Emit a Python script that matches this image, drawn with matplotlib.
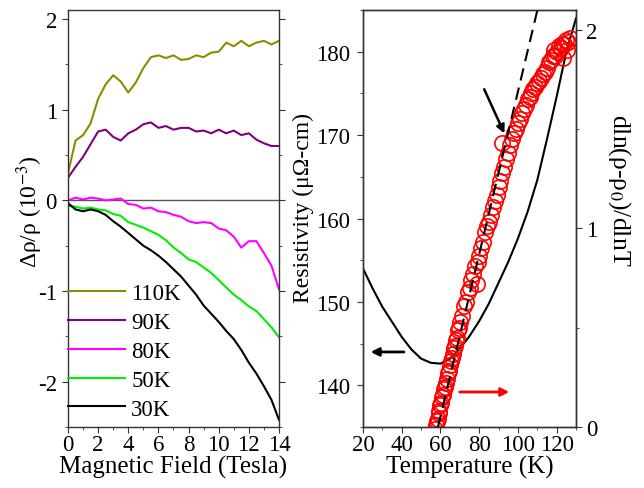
import matplotlib
matplotlib.use("Agg")
import matplotlib.pyplot as plt
from matplotlib.ticker import MultipleLocator

plt.rcParams['font.family'] = ['Liberation Serif', 'DejaVu Serif']
plt.rcParams['mathtext.fontset'] = 'stix'
plt.rcParams['axes.unicode_minus'] = False

# ---- left panel: magnetoresistance vs field ----
field = [0, 0.5, 1.0, 1.5, 2.0, 2.5, 3.0, 3.5, 4.0, 4.5, 5.0, 5.5, 6.0, 6.5, 7.0,
         7.5, 8.0, 8.5, 9.0, 9.5, 10.0, 10.5, 11.0, 11.5, 12.0, 12.5, 13.0, 13.5, 14.0]
mr_110 = [0.30, 0.66, 0.72, 0.85, 1.12, 1.28, 1.38, 1.31, 1.19, 1.30, 1.46, 1.58, 1.60, 1.57, 1.60,
          1.55, 1.56, 1.60, 1.58, 1.63, 1.64, 1.74, 1.70, 1.76, 1.70, 1.74, 1.76, 1.72, 1.76]
mr_90 = [0.25, 0.37, 0.48, 0.62, 0.76, 0.78, 0.70, 0.66, 0.74, 0.78, 0.84, 0.86, 0.80, 0.82, 0.78,
         0.80, 0.80, 0.76, 0.77, 0.74, 0.78, 0.74, 0.77, 0.72, 0.74, 0.67, 0.63, 0.60, 0.60]
mr_80 = [0.00, 0.03, 0.01, 0.03, 0.02, 0.00, 0.01, 0.02, -0.04, -0.05, -0.09, -0.08, -0.12, -0.13, -0.16,
         -0.18, -0.23, -0.25, -0.24, -0.25, -0.31, -0.33, -0.40, -0.52, -0.45, -0.45, -0.58, -0.72, -0.98]
mr_50 = [-0.06, -0.07, -0.09, -0.08, -0.10, -0.11, -0.15, -0.17, -0.24, -0.27, -0.30, -0.34, -0.38, -0.44, -0.52,
         -0.58, -0.65, -0.68, -0.74, -0.80, -0.88, -0.96, -1.04, -1.10, -1.17, -1.22, -1.31, -1.40, -1.51]
mr_30 = [-0.03, -0.10, -0.12, -0.10, -0.12, -0.16, -0.23, -0.29, -0.36, -0.43, -0.50, -0.55, -0.61, -0.68, -0.76,
         -0.84, -0.94, -1.04, -1.16, -1.25, -1.34, -1.44, -1.53, -1.65, -1.79, -1.91, -2.05, -2.20, -2.42]
mr_labels = ['110K', '90K', '80K', '50K', '30K']
mr_colors = ['#8c8c00', '#800080', '#ff00ff', '#00ee00', '#000000']

# ---- right panel: resistivity and log-derivative vs temperature ----
temp_rho = [20, 25, 30, 35, 40, 45, 50, 55, 60, 65, 70, 75, 80, 85, 90, 95, 100,
            105, 110, 115, 120, 125, 130]
rho = [154.0, 151.6, 149.4, 147.6, 145.8, 144.3, 143.2, 142.7, 142.6, 143.2, 144.4, 145.9, 147.7,
       149.8, 152.3, 154.8, 157.6, 160.8, 164.6, 169.5, 174.6, 180.0, 184.0]

temp_d = [57.0, 57.5, 58.0, 58.5, 59.0, 59.5, 60.0, 60.5, 61.0, 61.5, 62.0, 62.5, 63.0, 63.5,
          64.0, 64.5, 65.0, 65.5, 66.0, 66.5, 67.0, 67.5, 68.0, 68.5, 69.0, 69.5, 70.0, 71.0,
          72.0, 73.0, 74.0, 75.0, 76.0, 77.0, 78.0, 79.0, 79.5, 80.0, 81.0, 82.0, 83.0, 84.0,
          85.0, 86.0, 87.0, 88.0, 89.0, 90.0, 91.0, 92.0, 93.0, 92.0, 94.0, 95.0, 96.0, 97.0,
          98.0, 99.0, 100, 101, 102, 103, 104, 105, 106, 107, 108, 109, 110, 111, 112, 113,
          114, 115, 116, 117, 118, 118.5, 119, 120, 121, 122, 123, 123.5, 124, 125, 125.5, 126, 127]
dlog = [-0.01, 0.01, 0.03, 0.04, 0.07, 0.08, 0.11, 0.12, 0.15, 0.16, 0.19, 0.20, 0.22, 0.24,
        0.27, 0.28, 0.31, 0.33, 0.35, 0.37, 0.40, 0.41, 0.44, 0.45, 0.49, 0.50, 0.53, 0.56,
        0.61, 0.63, 0.68, 0.70, 0.74, 0.77, 0.81, 0.72, 0.83, 0.86, 0.90, 0.93, 0.98, 1.01,
        1.03, 1.07, 1.11, 1.14, 1.17, 1.21, 1.24, 1.28, 1.31, 1.43, 1.35, 1.38, 1.42, 1.45,
        1.48, 1.50, 1.53, 1.55, 1.58, 1.60, 1.62, 1.65, 1.66, 1.68, 1.70, 1.71, 1.73, 1.74, 1.76, 1.78,
        1.79, 1.81, 1.84, 1.85, 1.87, 1.90, 1.87, 1.89, 1.92, 1.91, 1.93, 1.86, 1.93, 1.95, 1.90, 1.94, 1.96]
fit_temp = [58.7, 113.0]
fit_dlog = [0.0, 2.22]

fig = plt.figure(figsize=(6.44, 4.89), dpi=100)
ax1 = fig.add_axes([0.1056, 0.1247, 0.3276, 0.8528])
ax2 = fig.add_axes([0.5637, 0.1247, 0.3307, 0.8528])
ax3 = ax2.twinx()

spine_c = '#333333'
fs = 16.5

# left panel
ax1.axhline(0, color='#555555', lw=1.0, zorder=1)
for ys, lab, c in zip([mr_110, mr_90, mr_80, mr_50, mr_30], mr_labels, mr_colors):
    ax1.plot(field, ys, color=c, lw=1.5, label=lab)
ax1.set_xlim(0, 14)
ax1.set_ylim(-2.5, 2.1)
ax1.xaxis.set_major_locator(MultipleLocator(2))
ax1.xaxis.set_minor_locator(MultipleLocator(1))
ax1.yaxis.set_major_locator(MultipleLocator(1))
ax1.yaxis.set_minor_locator(MultipleLocator(0.5))
ax1.tick_params(which='both', direction='out', right=True, top=False, labelsize=fs, color=spine_c)
ax1.tick_params(axis='x', pad=1)
ax1.tick_params(axis='y', pad=4)
ax1.tick_params(which='major', length=4)
ax1.tick_params(which='minor', length=2.5)
ax1.set_xlabel('Magnetic Field (Tesla)', fontsize=18, labelpad=0)
ax1.set_ylabel('Δρ/ρ (10$^{-3}$)', fontsize=17, ha='center', va='center')
ax1.yaxis.set_label_coords(-0.18, 0.518)
ax1.legend(loc='lower left', bbox_to_anchor=(0.0, 0.018), frameon=False, fontsize=fs,
           handlelength=2.5, handletextpad=0.26, labelspacing=0.34, borderaxespad=0.0,
           borderpad=0.0)

# right panel
ax2.plot(temp_rho, rho, color='black', lw=1.5)
ax2.set_xlim(20, 130)
ax2.set_ylim(135, 185)
ax2.xaxis.set_major_locator(MultipleLocator(20))
ax2.xaxis.set_minor_locator(MultipleLocator(10))
ax2.yaxis.set_major_locator(MultipleLocator(10))
ax2.yaxis.set_minor_locator(MultipleLocator(5))
ax2.tick_params(which='both', direction='out', right=False, top=False, labelsize=fs, color=spine_c)
ax2.tick_params(axis='x', pad=1)
ax2.tick_params(axis='y', pad=5)
ax2.tick_params(which='major', length=4)
ax2.tick_params(which='minor', length=2.5)
ax2.set_xlabel('Temperature (K)', fontsize=18, labelpad=0)
ax2.set_ylabel('Resistivity (μΩ-cm)', fontsize=17, ha='center', va='center')
ax2.yaxis.set_label_coords(-0.282, 0.528)

ax3.plot(temp_d, dlog, linestyle='none', marker='o', markersize=11, markerfacecolor='none',
         markeredgecolor='#ff0000', markeredgewidth=1.2)
ax3.plot(fit_temp, fit_dlog, color='black', lw=1.5, linestyle=(0, (6, 3.5)))
ax3.set_ylim(0, 2.1)
ax3.yaxis.set_major_locator(MultipleLocator(1))
ax3.yaxis.set_minor_locator(MultipleLocator(0.5))
ax3.tick_params(which='both', direction='out', labelsize=fs, color=spine_c, pad=3)
ax3.tick_params(which='major', length=4)
ax3.tick_params(which='minor', length=2.5)
ax3.set_ylabel('dln(ρ-ρ$_0$)/dlnT', fontsize=18.5, rotation=270, ha='center', va='center')
ax3.yaxis.set_label_coords(1.202, 0.571)

for a in (ax1, ax2, ax3):
    for s in a.spines.values():
        s.set_color(spine_c)
        s.set_linewidth(1.0)

# arrows
ax2.annotate('', xy=(22.5, 144.0), xytext=(42.6, 144.0),
             arrowprops=dict(arrowstyle='-|>', color='black', lw=2, mutation_scale=12))
ax2.annotate('', xy=(93.6, 169.9), xytext=(82.0, 175.8),
             arrowprops=dict(arrowstyle='-|>', color='black', lw=1.8, mutation_scale=12))
ax2.annotate('', xy=(97.0, 139.2), xytext=(68.5, 139.2),
             arrowprops=dict(arrowstyle='-|>', color='#ff0000', lw=2, mutation_scale=12))

fig.savefig('out.png', dpi=100)
